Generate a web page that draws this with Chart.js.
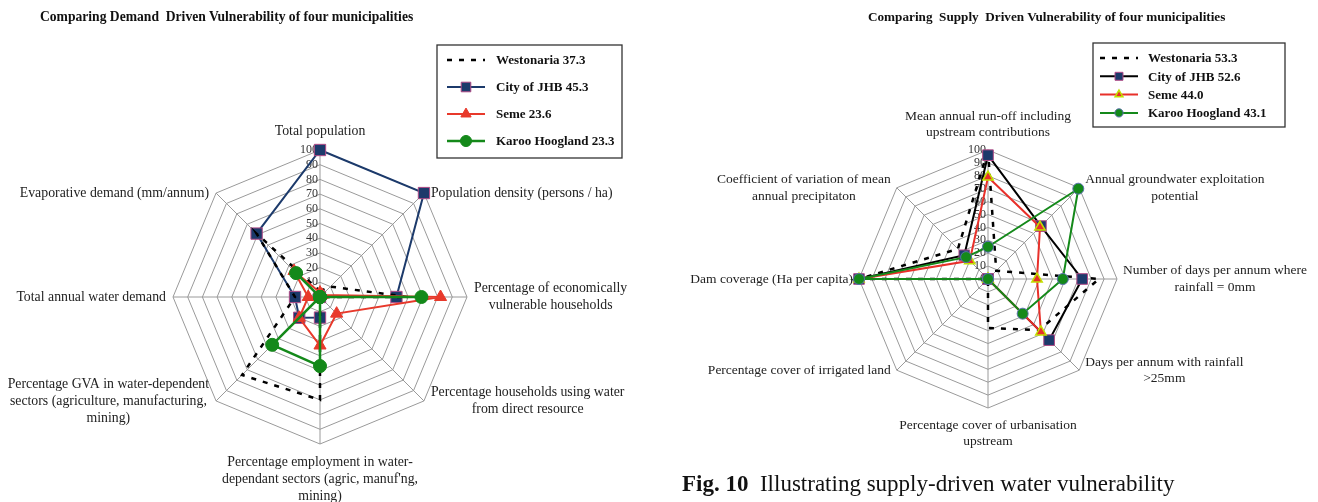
<!DOCTYPE html>
<html>
<head>
<meta charset="utf-8">
<script src="https://cdn.jsdelivr.net/npm/chart.js@4.4.1/dist/chart.umd.min.js"></script>
<style>
    body { margin: 0; background: #fff; }
    #page { position: relative; width: 1318px; height: 502px; overflow: hidden; font-family: "Liberation Serif", "DejaVu Serif", serif; color: #111; }
    canvas { position: absolute; top: 0; }
    .title { position: absolute; top: 9px; font-weight: bold; font-size: 13.6px; white-space: pre; }
    #caption { position: absolute; left: 682px; top: 471px; font-size: 23px; white-space: pre; }
</style>
</head>
<body>
<div id="page">
    <canvas id="demandChart" width="659" height="502" style="left:0"></canvas>
    <canvas id="supplyChart" width="659" height="502" style="left:659px"></canvas>
    <div class="title" style="left:40px">Comparing Demand  Driven Vulnerability of four municipalities</div>
    <div class="title" style="left:868px;font-size:13.2px">Comparing  Supply  Driven Vulnerability of four municipalities</div>
    <div id="caption"><b>Fig. 10</b>  Illustrating supply-driven water vulnerability</div>
</div>
<script>
// demand-driven axes (clockwise from top)
var demandAxes = [
    'Total population',
    'Population density (persons / ha)',
    ['Percentage of economically', 'vulnerable households'],
    ['Percentage households using water', 'from direct resource'],
    ['Percentage employment in water-', "dependant sectors (agric, manuf'ng,", 'mining)'],
    ['Percentage GVA in water-dependent', 'sectors (agriculture, manufacturing,', 'mining)'],
    'Total annual water demand',
    'Evaporative demand (mm/annum)'
];
var westonariaDemand = [4, 10, 60, 0, 70, 75, 17, 61];
var jhbDemand = [100, 100, 52, 0, 14, 20, 17, 61];
var semeDemand = [3, 2, 82, 16, 33, 20, 8, 25];
var karooDemand = [0, 0, 69, 0, 47, 46, 0, 23];
var demandLegend = ['Westonaria 37.3', 'City of JHB 45.3', 'Seme 23.6', 'Karoo Hoogland 23.3'];

// supply-driven axes
var supplyAxes = [
    ['Mean annual run-off including', 'upstream contributions'],
    ['Annual groundwater exploitation', 'potential'],
    ['Number of days per annum where', 'rainfall = 0mm'],
    ['Days per annum with rainfall', '>25mm'],
    ['Percentage cover of urbanisation', 'upstream'],
    'Percentage cover of irrigated land',
    'Dam coverage (Ha per capita)',
    ['Coefficient of variation of mean', 'annual precipitaton']
];
var westonariaSupply = [100, 9, 86, 56, 38, 0, 100, 33];
var jhbSupply = [96, 58, 73, 67, 0, 0, 100, 26];
var semeSupply = [79, 57, 38, 58, 0, 0, 100, 20];
var karooSupply = [25, 99, 58, 38, 0, 0, 100, 24];
var supplyLegend = ['Westonaria 53.3', 'City of JHB 52.6', 'Seme 44.0', 'Karoo Hoogland 43.1'];

var tickValues = [0, 10, 20, 30, 40, 50, 60, 70, 80, 90, 100];

var serif = '"Liberation Serif", "DejaVu Serif", serif';

// tick numbers just left of the vertical axis
var axisTicks = {
    id: 'axisTicks',
    beforeDatasetsDraw: function (chart, args, opts) {
        var r = chart.scales.r;
        var ctx = chart.ctx;
        ctx.save();
        ctx.font = opts.size + 'px ' + serif;
        ctx.fillStyle = '#333';
        ctx.textAlign = 'right';
        ctx.textBaseline = 'middle';
        tickValues.forEach(function (v) {
            var p = r.getPointPositionForValue(0, v);
            ctx.fillText(String(v), p.x - 2, p.y);
        });
        ctx.restore();
    }
};

// axis titles, multi line ones centred as a block
var axisTitles = {
    id: 'axisTitles',
    afterDraw: function (chart, args, opts) {
        var r = chart.scales.r;
        var ctx = chart.ctx;
        ctx.save();
        ctx.font = opts.size + 'px ' + serif;
        ctx.fillStyle = '#222';
        ctx.textAlign = 'center';
        ctx.textBaseline = 'middle';
        chart.data.labels.forEach(function (lbl, i) {
            var lines = [].concat(lbl);
            var p = r.getPointPosition(i, r.drawingArea);
            var a = r.getIndexAngle(i);
            var w = Math.max.apply(null, lines.map(function (l) { return ctx.measureText(l).width; }));
            var h = lines.length * opts.lineHeight;
            var cx, cy;
            if (Math.abs(Math.sin(a)) < 0.01) {
                cx = p.x;
                cy = Math.cos(a) > 0 ? p.y - opts.pad - h / 2 : p.y + opts.pad + h / 2;
            } else {
                cx = Math.sin(a) > 0 ? p.x + opts.side + w / 2 : p.x - opts.side - w / 2;
                cy = p.y;
            }
            lines.forEach(function (l, k) {
                ctx.fillText(l, cx, cy - h / 2 + opts.lineHeight * (k + 0.5));
            });
        });
        ctx.restore();
    }
};

// boxed legend with line + marker samples
var boxLegend = {
    id: 'boxLegend',
    afterDraw: function (chart, args, opts) {
        var ctx = chart.ctx;
        ctx.save();
        ctx.fillStyle = '#fff';
        ctx.fillRect(opts.x, opts.y, opts.w, opts.h);
        ctx.strokeStyle = '#333';
        ctx.lineWidth = 1.3;
        ctx.strokeRect(opts.x, opts.y, opts.w, opts.h);
        chart.data.datasets.forEach(function (ds, i) {
            var y = opts.y + opts.first + i * opts.step;
            var x0 = opts.x + opts.lineStart;
            var x1 = x0 + 38;
            ctx.beginPath();
            ctx.setLineDash(ds.borderDash || []);
            ctx.strokeStyle = ds.borderColor;
            ctx.lineWidth = ds.borderWidth;
            ctx.moveTo(x0, y);
            ctx.lineTo(x1, y);
            ctx.stroke();
            ctx.setLineDash([]);
            if (ds.pointRadius > 0) {
                ctx.fillStyle = ds.pointBackgroundColor;
                ctx.strokeStyle = ds.pointBorderColor;
                ctx.lineWidth = ds.pointBorderWidth;
                Chart.helpers.drawPoint(ctx, {
                    pointStyle: ds.pointStyle,
                    radius: ds.pointRadius * opts.markScale,
                    borderWidth: ds.pointBorderWidth,
                    rotation: 0
                }, (x0 + x1) / 2, y);
            }
            ctx.fillStyle = '#111';
            ctx.font = 'bold 13px ' + serif;
            ctx.textAlign = 'left';
            ctx.textBaseline = 'middle';
            ctx.fillText(opts.labels[i], opts.x + opts.textStart, y + 1);
        });
        ctx.restore();
    }
};

function radarOptions(pad, legend, titles, tickSize) {
    return {
        responsive: false,
        animation: false,
        devicePixelRatio: 1,
        layout: { padding: pad },
        elements: { line: { tension: 0, fill: false } },
        scales: {
            r: {
                min: 0,
                max: 100,
                ticks: { stepSize: 10, display: false },
                grid: { color: '#9a9a9a', lineWidth: 1 },
                angleLines: { color: '#9a9a9a', lineWidth: 1 },
                pointLabels: { display: false }
            }
        },
        plugins: {
            legend: { display: false },
            tooltip: { enabled: false },
            axisTicks: { size: tickSize },
            axisTitles: titles,
            boxLegend: legend
        }
    };
}

new Chart(document.getElementById('demandChart'), {
    type: 'radar',
    data: {
        labels: demandAxes,
        datasets: [{
            label: 'Westonaria',
            data: westonariaDemand,
            borderColor: '#000',
            borderWidth: 2.5,
            borderDash: [5, 7],
            pointRadius: 0,
            order: 2
        }, {
            label: 'City of JHB',
            data: jhbDemand,
            borderColor: '#1c3a6b',
            borderWidth: 2,
            pointStyle: 'rect',
            pointRadius: 8,
            pointBackgroundColor: '#1c3a6b',
            pointBorderColor: '#b04a86',
            pointBorderWidth: 1,
            order: 3
        }, {
            label: 'Seme',
            data: semeDemand,
            borderColor: '#e8392b',
            borderWidth: 2,
            pointStyle: 'triangle',
            pointRadius: 7,
            pointBackgroundColor: '#e8392b',
            pointBorderColor: '#e8392b',
            pointBorderWidth: 1,
            order: 1
        }, {
            label: 'Karoo Hoogland',
            data: karooDemand,
            borderColor: '#14891a',
            borderWidth: 2.5,
            pointStyle: 'circle',
            pointRadius: 6.5,
            pointBackgroundColor: '#14891a',
            pointBorderColor: '#14891a',
            pointBorderWidth: 1,
            order: 0
        }]
    },
    options: radarOptions(
        { left: 173, right: 192, top: 150, bottom: 58 },
        { x: 437, y: 45, w: 185, h: 113, first: 15, step: 27, lineStart: 10, textStart: 59, labels: demandLegend, markScale: 0.85 },
        { size: 13.8, lineHeight: 17, pad: 10, side: 7 },
        12
    ),
    plugins: [axisTicks, axisTitles, boxLegend]
});

new Chart(document.getElementById('supplyChart'), {
    type: 'radar',
    data: {
        labels: supplyAxes,
        datasets: [{
            label: 'Westonaria',
            data: westonariaSupply,
            borderColor: '#000',
            borderWidth: 2.5,
            borderDash: [5, 7],
            pointRadius: 0,
            order: 3
        }, {
            label: 'City of JHB',
            data: jhbSupply,
            borderColor: '#000',
            borderWidth: 2,
            pointStyle: 'rect',
            pointRadius: 7.5,
            pointBackgroundColor: '#1c3a6b',
            pointBorderColor: '#b04a86',
            pointBorderWidth: 1,
            order: 2
        }, {
            label: 'Seme',
            data: semeSupply,
            borderColor: '#e8302a',
            borderWidth: 2,
            pointStyle: 'triangle',
            pointRadius: 6,
            pointBackgroundColor: '#e8302a',
            pointBorderColor: '#c2e000',
            pointBorderWidth: 1.5,
            order: 1
        }, {
            label: 'Karoo Hoogland',
            data: karooSupply,
            borderColor: '#14891a',
            borderWidth: 2,
            pointStyle: 'circle',
            pointRadius: 5.5,
            pointBackgroundColor: '#14891a',
            pointBorderColor: '#5a6fae',
            pointBorderWidth: 1,
            order: 0
        }]
    },
    options: radarOptions(
        { left: 200, right: 201, top: 150, bottom: 94 },
        { x: 434, y: 43, w: 192, h: 84, first: 15, step: 18.3, lineStart: 7, textStart: 55, labels: supplyLegend, markScale: 0.75 },
        { size: 13.5, lineHeight: 16.5, pad: 9, side: 6 },
        12
    ),
    plugins: [axisTicks, axisTitles, boxLegend]
});
</script>
</body>
</html>
